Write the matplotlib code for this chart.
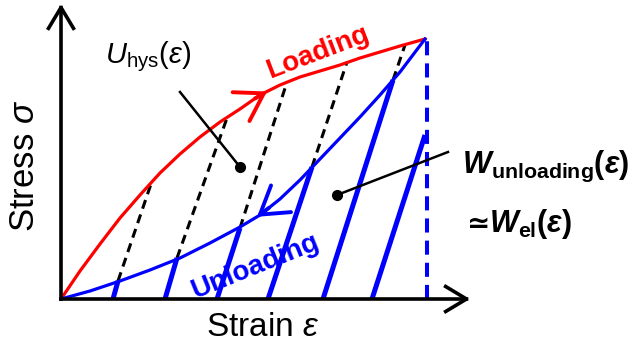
import matplotlib
matplotlib.use("Agg")
import matplotlib.pyplot as plt
import numpy as np
from matplotlib.patches import FancyArrowPatch

plt.rcParams.update({
    "font.family": ["Liberation Sans", "DejaVu Sans"],
    "mathtext.fontset": "custom",
    "mathtext.rm": "Liberation Sans",
    "mathtext.it": "Liberation Sans:italic",
    "mathtext.bf": "Liberation Sans:bold",
    "mathtext.bfit": "Liberation Sans:italic:bold",
    "mathtext.fallback": "stixsans",
})

RED = "#FF0000"
BLUE = "#0000FF"

# schematic curves (strain, stress) in arbitrary units
load_strain = [0, 19, 39, 59, 79, 99, 119, 139, 159, 179, 199, 219, 239, 259, 279, 299, 319, 339, 364]
load_stress = [0, 28, 55, 81, 104, 126, 145, 162, 177, 190, 204, 214, 222, 228, 234, 241, 247, 253, 260]

unload_strain = [0, 29, 59, 89, 119, 149, 179, 199, 219, 239, 259, 279, 299, 319, 339, 364]
unload_stress = [0, 8, 18, 29, 41, 56, 72, 84, 100, 119, 140, 161, 182, 204, 227, 260]

# elastic unloading lines: foot on strain axis, hit on unloading curve, hit on loading curve
el_foot = [52, 104, 156, 207, 262, 311]
el_mid_strain = [57, 116, 179, 251, 332, 364]
el_mid_stress = [18, 41, 71, 132, 219, 164]
el_top_strain = [91, 166, 226, 286, 344]
el_top_stress = [118, 181, 217, 237, 254]

eps_max = 366
sig_max = 260
load_arrow_at = 206
unload_arrow_at = 196

fig = plt.figure(figsize=(6.34, 3.49), dpi=100)
ax = fig.add_axes([0, 0, 1, 1])
ax.set_xlim(-61, 573)
ax.set_ylim(-50, 299)
ax.axis("off")

# axes with open arrow heads
for tip in [(409, 0), (0, 295)]:
    ax.add_patch(FancyArrowPatch((0, 0), tip, arrowstyle="->,head_length=0.75,head_width=0.45",
                                 mutation_scale=20, lw=2.6, color="black", zorder=5,
                                 shrinkA=0, shrinkB=0, capstyle="projecting"))

# elastic lines
for i, x0 in enumerate(el_foot):
    ax.plot([x0, el_mid_strain[i]], [0, el_mid_stress[i]], color=BLUE, lw=3.6,
            solid_capstyle="butt", zorder=3)
    if i < len(el_top_strain):
        ax.plot([el_mid_strain[i], el_top_strain[i]], [el_mid_stress[i], el_top_stress[i]],
                color="black", lw=2.2, ls=(0, (3, 2)), zorder=2)

ax.plot([eps_max, eps_max], [0, sig_max], color=BLUE, lw=2.9, ls=(0, (3.5, 2)), zorder=2)

ax.plot(load_strain, load_stress, color=RED, lw=2.3, zorder=4, solid_joinstyle="round")
ax.plot(unload_strain, unload_stress, color=BLUE, lw=2.3, zorder=4, solid_joinstyle="round")

# direction chevrons on the curves
tip = (load_arrow_at, np.interp(load_arrow_at, load_strain, load_stress))
tail = (load_arrow_at - 12, np.interp(load_arrow_at - 12, load_strain, load_stress))
ax.add_patch(FancyArrowPatch(tail, tip, arrowstyle="->,head_length=0.95,head_width=0.6",
                             mutation_scale=20, lw=2.8, color=RED, zorder=4, shrinkA=0, shrinkB=0))
tip = (unload_arrow_at, np.interp(unload_arrow_at, unload_strain, unload_stress))
tail = (unload_arrow_at + 12, np.interp(unload_arrow_at + 12, unload_strain, unload_stress))
ax.add_patch(FancyArrowPatch(tail, tip, arrowstyle="->,head_length=0.95,head_width=0.6",
                             mutation_scale=20, lw=2.8, color=BLUE, zorder=4, shrinkA=0, shrinkB=0))

# pointer lines
ax.plot([119, 179], [207, 132], color="black", lw=1.8, zorder=6)
ax.plot([179], [132], "o", color="black", ms=7, zorder=6)
ax.plot([387, 276], [147, 104], color="black", lw=1.8, zorder=6)
ax.plot([276], [104], "o", color="black", ms=7, zorder=6)

# labels
ax.text(44, 236, r"$U_{\mathrm{hys}}(\varepsilon)$", fontsize=21, ha="left", va="baseline")
ax.text(257, 246, "Loading", color=RED, fontsize=20, fontweight="bold", rotation=21,
        ha="center", va="center", rotation_mode="anchor")
ax.text(194, 32, "Unloading", color=BLUE, fontsize=20, fontweight="bold", rotation=22,
        ha="center", va="center", rotation_mode="anchor")
ax.text(-36, 133, r"Stress $\sigma$", fontsize=25, rotation=90, ha="center", va="center")
ax.text(202, -29, r"Strain $\varepsilon$", fontsize=24, ha="center", va="center")
ax.text(401, 126, r"$\mathbfit{W}_{\mathbf{unloading}}\mathbf{(}\mathbfit{\varepsilon}\mathbf{)}$",
        fontsize=22, ha="left", va="baseline")
ax.text(406, 67, "\u2243", family="DejaVu Sans", fontweight="bold", fontsize=20,
        ha="left", va="baseline")
ax.text(428, 67, r"$\mathbfit{W}_{\mathbf{el}}\mathbf{(}\mathbfit{\varepsilon}\mathbf{)}$",
        fontsize=22, ha="left", va="baseline")

fig.savefig("out.png", dpi=100)
